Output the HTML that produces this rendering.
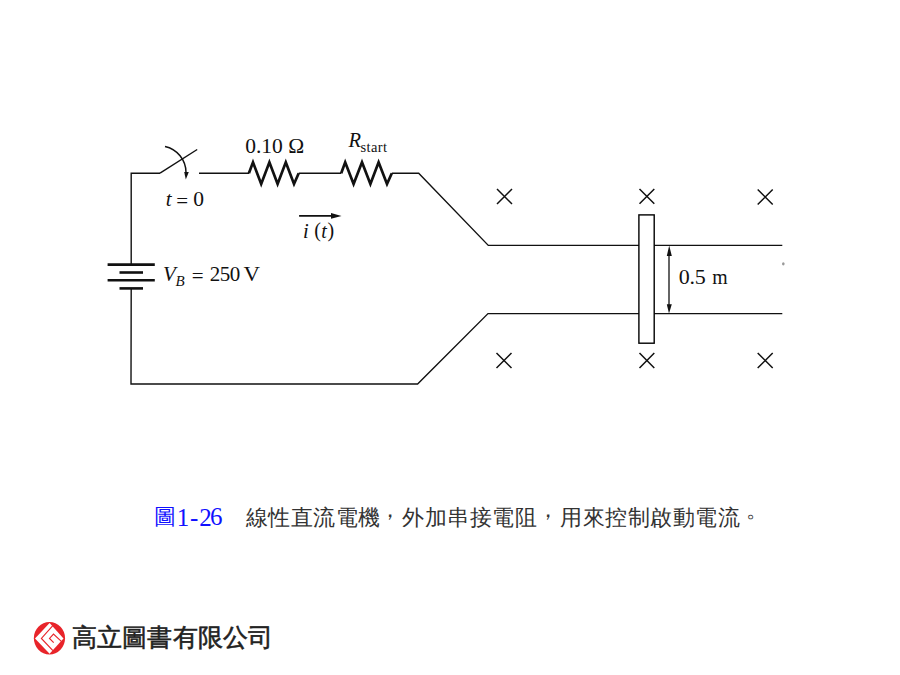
<!DOCTYPE html>
<html><head><meta charset="utf-8">
<style>
html,body{margin:0;padding:0;background:#fff;width:900px;height:675px;overflow:hidden;}
svg{position:absolute;left:0;top:0;}
.t{font-family:"Liberation Serif",serif;fill:#111;}
.cj{font-family:"Liberation Serif",serif;fill:#333;}
.lg{font-family:"Liberation Sans",sans-serif;fill:#222;stroke:#222;stroke-width:0.55;}
</style></head>
<body>
<svg width="900" height="675" viewBox="0 0 900 675">
<g fill="none" stroke="#111" stroke-width="1.4" stroke-linejoin="miter">
  <polyline points="160,173.2 131.2,173.2 131.2,264.6"/>
  <polyline points="131.2,288.4 131,384 417.6,384 488,313.6 782.3,313.6"/>
  <polyline points="199,173.2 249,173.2"/>
  <polyline points="298.7,173.2 341.2,173.2"/>
  <polyline points="391.8,173.2 418.7,173.2 488.3,245.4 782.3,245.4"/>
  <line x1="160" y1="173.2" x2="197.2" y2="149.5"/>
  <path d="M165,146.5 A26.7,26.7 0 0 1 186,172.5" stroke-width="1.5"/>
  <polyline stroke-width="2.7" points="248.9,173.2 253,162.3 261.2,184 269.4,162.3 277.6,184 285.8,162.3 294,184 298.7,173.2"/>
  <polyline stroke-width="2.7" points="341.2,173.2 345.2,162.3 353.6,184 362,162.3 370.4,184 378.6,162.3 387,184 391.8,173.2"/>
  <line x1="107.6" y1="264.6" x2="154.8" y2="264.6" stroke-width="2.6"/>
  <line x1="119.5" y1="272.5" x2="143" y2="272.5" stroke-width="2.6"/>
  <line x1="107.6" y1="280.2" x2="154.8" y2="280.2" stroke-width="2.6"/>
  <line x1="119.5" y1="288.4" x2="143" y2="288.4" stroke-width="2.6"/>
  <line x1="299.1" y1="215.9" x2="333" y2="215.9" stroke-width="1.9"/>
  <path stroke-width="1.5" d="M497,189 L512,204 M512,189 L497,204
     M639.5,189 L654.3,203.7 M654.3,189 L639.5,203.7
     M757.7,189.5 L772.7,204.5 M772.7,189.5 L757.7,204.5
     M496.5,353 L511.5,368 M511.5,353 L496.5,368
     M639.5,353 L654.3,368 M654.3,353 L639.5,368
     M757.7,353 L772.7,368 M772.7,353 L757.7,368"/>
  <line x1="669" y1="250" x2="669" y2="309" stroke-width="1.3"/>
</g>
<rect x="638.9" y="214.9" width="15.3" height="128.3" fill="#fff" stroke="#000" stroke-width="1.4"/>
<ellipse cx="783.3" cy="263.8" rx="1.3" ry="1.6" fill="#999"/>
<g fill="#111">
  <polygon points="184.2,172 188.8,172 185.8,179.5"/>
  <polygon points="331,213.1 341.5,215.9 331,218.7"/>
  <polygon points="666.8,256 671.8,256 669.2,245.6"/>
  <polygon points="666.8,304.2 671.8,304.2 669,313.6"/>
</g>
<g class="t">
  <text x="245.2" y="153.0" font-size="21.5">0.10 Ω</text>
  <text x="348.6" y="146.6" font-size="20.5" font-style="italic">R</text>
  <text x="360.5" y="151.7" font-size="14.5" letter-spacing="0.41">start</text>
  <text x="165.8" y="205.6" font-size="21" font-style="italic">t</text>
  <text x="176.3" y="207.7" font-size="21">=</text>
  <text x="193.3" y="205.7" font-size="21.5">0</text>
  <text x="302.9" y="238.1" font-size="20.5" font-style="italic">i</text>
  <text x="314.2" y="237.4" font-size="20">(</text>
  <text x="321.2" y="238.3" font-size="20" font-style="italic">t</text>
  <text x="327.5" y="237.4" font-size="20">)</text>
  <text x="163.0" y="280.8" font-size="21" font-style="italic">V</text>
  <text x="175.5" y="286.4" font-size="15" font-style="italic">B</text>
  <text x="191.8" y="282.6" font-size="21">=</text>
  <text x="209.8" y="281.1" font-size="21" letter-spacing="-0.56">250</text>
  <text x="243.4" y="280.8" font-size="21" transform="translate(243.4 0) scale(1.09 1) translate(-243.4 0)">V</text>
  <text x="678.8" y="284.3" font-size="22" letter-spacing="-0.3">0.5</text>
  <text x="712.3" y="284.3" font-size="22" transform="translate(712.3 0) scale(0.9 1) translate(-712.3 0)">m</text>
</g>
<!-- caption -->
<g fill="#1010ff" font-family="Liberation Serif, serif">
  <text x="154.2" y="524.1" font-size="22" font-weight="300">圖</text>
  <text x="176.7" y="525.8" font-size="25">1</text>
  <text x="189.9" y="526.0" font-size="25">-</text>
  <text x="199.2" y="525.8" font-size="25">2</text>
  <text x="209.9" y="525.3" font-size="25">6</text>
</g>
<g class="cj" font-size="22" letter-spacing="0.5">
  <text x="245.6" y="524.5">線性直流電機</text>
  <text x="379.0" y="516.8">，</text>
  <text x="402.0" y="524.5">外加串接電阻</text>
  <text x="536.6" y="516.8">，</text>
  <text x="560.0" y="524.5">用來控制啟動電流</text>
  <text x="745.6" y="517.2">。</text>
</g>
<!-- logo -->
<g>
  <ellipse cx="49.45" cy="638.2" rx="15.6" ry="16.2" fill="#e8242a"/>
  <polygon fill="#fff" points="49.6,623 63.5,638.4 49.6,653.7 35,638.4"/>
  <g fill="none" stroke="#e8242a" stroke-width="1.15">
    <polyline points="52.6,625.9 41.4,638.4 52.9,650.6"/>
    <polyline points="53.7,642.7 49.5,638.4 53.5,634.1 61.6,641.6"/>
  </g>
</g>
<text class="lg" x="71.7" y="646.3" font-size="25" letter-spacing="0.25">高立圖書有限公司</text>
</svg>
</body></html>
